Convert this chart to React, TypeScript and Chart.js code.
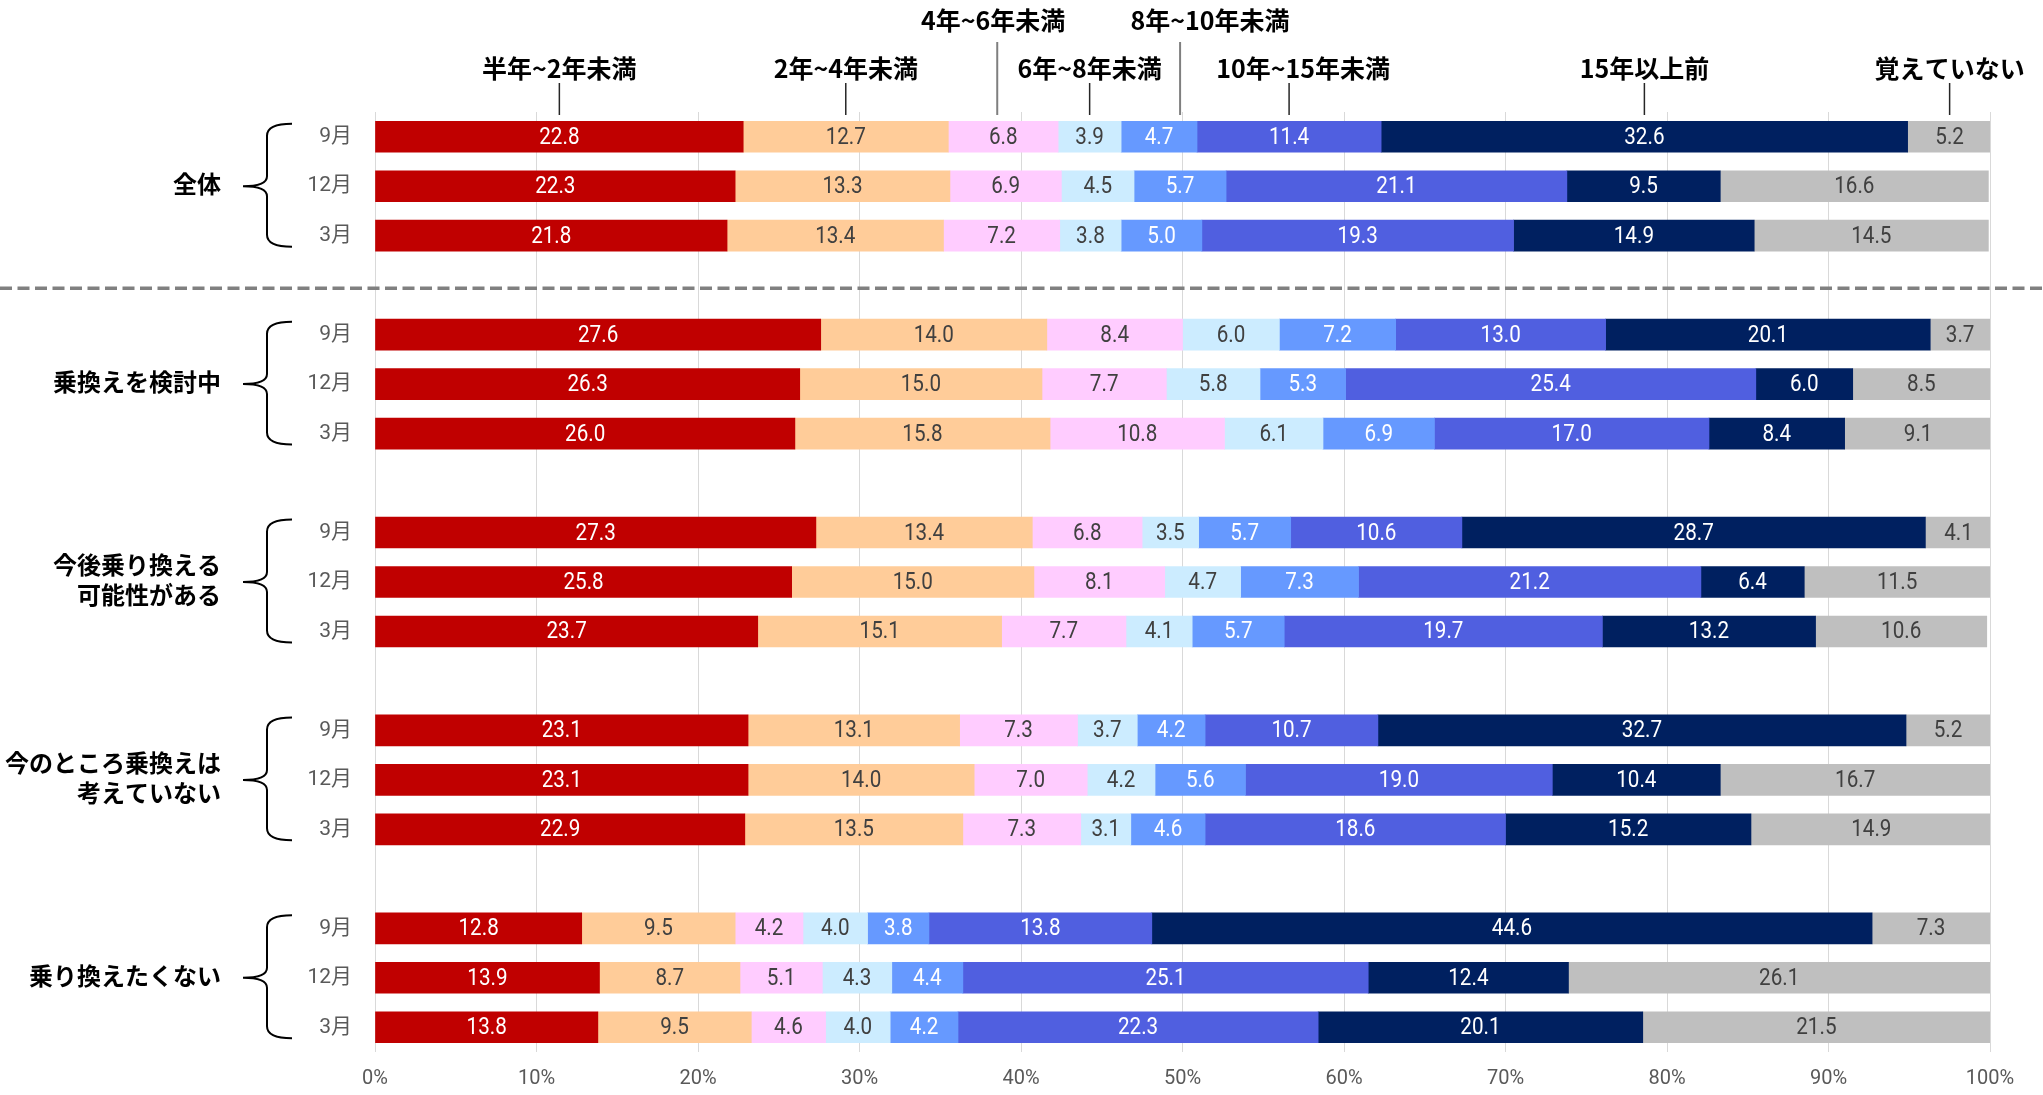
import React, { useEffect, useRef } from 'react';
import { Chart, registerables } from 'chart.js';
Chart.register(...registerables);

// ---- data ----
const seriesNames = ['半年~2年未満', '2年~4年未満', '4年~6年未満', '6年~8年未満', '8年~10年未満', '10年~15年未満', '15年以上前', '覚えていない'];
const groupLabels = [['全体'], ['乗換えを検討中'], ['今後乗り換える', '可能性がある'], ['今のところ乗換えは', '考えていない'], ['乗り換えたくない']];
const months = ['9月', '12月', '3月'];
const xTickValues = [0, 10, 20, 30, 40, 50, 60, 70, 80, 90, 100];

// each series: 5 groups x (9月, 12月, 3月)
const halfTo2 = [22.8, 22.3, 21.8, 27.6, 26.3, 26.0, 27.3, 25.8, 23.7, 23.1, 23.1, 22.9, 12.8, 13.9, 13.8];
const y2to4 = [12.7, 13.3, 13.4, 14.0, 15.0, 15.8, 13.4, 15.0, 15.1, 13.1, 14.0, 13.5, 9.5, 8.7, 9.5];
const y4to6 = [6.8, 6.9, 7.2, 8.4, 7.7, 10.8, 6.8, 8.1, 7.7, 7.3, 7.0, 7.3, 4.2, 5.1, 4.6];
const y6to8 = [3.9, 4.5, 3.8, 6.0, 5.8, 6.1, 3.5, 4.7, 4.1, 3.7, 4.2, 3.1, 4.0, 4.3, 4.0];
const y8to10 = [4.7, 5.7, 5.0, 7.2, 5.3, 6.9, 5.7, 7.3, 5.7, 4.2, 5.6, 4.6, 3.8, 4.4, 4.2];
const y10to15 = [11.4, 21.1, 19.3, 13.0, 25.4, 17.0, 10.6, 21.2, 19.7, 10.7, 19.0, 18.6, 13.8, 25.1, 22.3];
const y15plus = [32.6, 9.5, 14.9, 20.1, 6.0, 8.4, 28.7, 6.4, 13.2, 32.7, 10.4, 15.2, 44.6, 12.4, 20.1];
const notRemember = [5.2, 16.6, 14.5, 3.7, 8.5, 9.1, 4.1, 11.5, 10.6, 5.2, 16.7, 14.9, 7.3, 26.1, 21.5];

const seriesValues = [halfTo2, y2to4, y4to6, y6to8, y8to10, y10to15, y15plus, notRemember];

// ---- styles ----
const barColors = ['#C00000', '#FFCC99', '#FFCCFF', '#CCECFF', '#6699FF', '#505FE0', '#002060', '#BFBFBF'];
const textColors = ['#FFFFFF', '#404040', '#404040', '#404040', '#FFFFFF', '#FFFFFF', '#FFFFFF', '#404040'];
const headerUpper = [false, false, true, false, true, false, false, false];
const headerLineDx = [0, 0, -6, 0, 21, 0, 0, 0];
const headerTextDx = [0, 0, -4, 0, 30, 14, 0, 0];

// build rows (with blank spacer rows between groups)
const rowLabels: string[] = [];
const rowSource: (number | null)[] = [];
const groupRows: number[][] = [];
groupLabels.forEach((_, g) => {
  const rows: number[] = [];
  months.forEach((m, k) => {
    rows.push(rowLabels.length);
    rowLabels.push(m);
    rowSource.push(g * months.length + k);
  });
  groupRows.push(rows);
  if (g < groupLabels.length - 1) {
    rowLabels.push('');
    rowSource.push(null);
  }
});

const JP = "'Noto Sans CJK JP', 'Noto Sans', sans-serif";

const overlayPlugin = {
  id: 'overlay',
  afterDatasetsDraw(chart: any) {
    const ctx = chart.ctx;
    chart.data.datasets.forEach((ds: any, i: number) => {
      const meta = chart.getDatasetMeta(i);
      meta.data.forEach((el: any, j: number) => {
        const v = ds.data[j];
        if (v == null) return;
        const cx = (el.x + el.base) / 2;
        ctx.save();
        ctx.translate(cx, el.y);
        ctx.scale(0.86, 1);
        ctx.font = "24px Roboto, 'Noto Sans', sans-serif";
        ctx.fillStyle = textColors[i];
        ctx.textAlign = 'center';
        ctx.textBaseline = 'middle';
        ctx.fillText(Number(v).toFixed(1), 0, 1);
        ctx.restore();
      });
    });
  },
  afterDraw(chart: any) {
    const ctx = chart.ctx;
    const area = chart.chartArea;
    const ys = chart.scales.y;
    const W = chart.width;

    // dashed separator after the first group
    const sepY = (ys.getPixelForValue(groupRows[0][2]) + ys.getPixelForValue(groupRows[1][0])) / 2 + 3;
    ctx.save();
    ctx.strokeStyle = '#808080';
    ctx.lineWidth = 3.5;
    ctx.setLineDash([12, 5.5]);
    ctx.beginPath();
    ctx.moveTo(0, sepY);
    ctx.lineTo(W, sepY);
    ctx.stroke();
    ctx.restore();

    // header labels with leader lines (based on first row)
    const firstRow = groupRows[0][0];
    chart.data.datasets.forEach((ds: any, i: number) => {
      const el = chart.getDatasetMeta(i).data[firstRow];
      const mid = (el.x + el.base) / 2;
      const lx = mid + headerLineDx[i];
      const upper = headerUpper[i];
      ctx.save();
      ctx.strokeStyle = upper ? '#7F7F7F' : '#262626';
      ctx.lineWidth = upper ? 2 : 1.5;
      ctx.beginPath();
      ctx.moveTo(lx, upper ? 42 : 83);
      ctx.lineTo(lx, area.top + 3);
      ctx.stroke();
      ctx.font = `bold 25px ${JP}`;
      ctx.fillStyle = '#000000';
      ctx.textAlign = 'center';
      ctx.textBaseline = 'middle';
      const tw = ctx.measureText(seriesNames[i]).width;
      let tx = lx + headerTextDx[i];
      if (tx + tw / 2 > W - 1) tx = W - 1 - tw / 2;
      ctx.fillText(seriesNames[i], tx, upper ? 20 : 68);
      ctx.restore();
    });

    // braces and group labels
    groupRows.forEach((rows, g) => {
      const yTop = ys.getPixelForValue(rows[0]) - 13;
      const yMid = ys.getPixelForValue(rows[1]);
      const yBot = ys.getPixelForValue(rows[2]) + 11;
      const xTip = 243, xStem = 267, xEnd = 292;
      ctx.save();
      ctx.strokeStyle = '#000000';
      ctx.lineWidth = 2;
      ctx.beginPath();
      ctx.moveTo(xEnd, yTop);
      ctx.quadraticCurveTo(xStem, yTop, xStem, yTop + 12);
      ctx.lineTo(xStem, yMid - 10);
      ctx.quadraticCurveTo(xStem, yMid, xTip, yMid);
      ctx.quadraticCurveTo(xStem, yMid, xStem, yMid + 10);
      ctx.lineTo(xStem, yBot - 12);
      ctx.quadraticCurveTo(xStem, yBot, xEnd, yBot);
      ctx.stroke();

      const lines = groupLabels[g];
      const lh = 30;
      ctx.font = `bold 24px ${JP}`;
      ctx.fillStyle = '#000000';
      ctx.textAlign = 'right';
      ctx.textBaseline = 'middle';
      lines.forEach((t, k) => {
        const ty = yMid - 2 + (k - (lines.length - 1) / 2) * lh;
        ctx.fillText(t, 221, ty);
      });
      ctx.restore();
    });
  },
};

export default function App() {
  const ref = useRef<HTMLCanvasElement>(null);
  useEffect(() => {
    document.body.style.margin = '0';
    const datasets = seriesNames.map((name, i) => ({
      label: name,
      data: rowSource.map((s) => (s == null ? null : seriesValues[i][s])),
      backgroundColor: barColors[i],
      borderWidth: 0,
      barThickness: 31,
    }));
    const chart = new Chart(ref.current as HTMLCanvasElement, {
      type: 'bar',
      data: { labels: rowLabels, datasets },
      options: {
        indexAxis: 'y',
        animation: false,
        responsive: false,
        devicePixelRatio: 1,
        layout: { padding: { top: 112, right: 53, left: 0, bottom: 0 } },
        plugins: { legend: { display: false }, tooltip: { enabled: false } },
        scales: {
          x: {
            stacked: true,
            min: 0,
            max: 100,
            afterBuildTicks: (s: any) => {
              s.ticks = xTickValues.map((v) => ({ value: v }));
            },
            afterFit: (s: any) => {
              s.height = 43;
            },
            ticks: {
              callback: (v: any) => `${v}%`,
              font: { family: "Roboto, 'Noto Sans', sans-serif", size: 20 },
              color: '#595959',
              padding: 15,
              maxRotation: 0,
            },
            grid: { color: '#D9D9D9', lineWidth: 1, drawTicks: false },
            border: { display: false },
          },
          y: {
            stacked: true,
            afterFit: (s: any) => {
              s.width = 375;
            },
            ticks: {
              autoSkip: false,
              font: { family: `Roboto, ${JP}`, size: 21 },
              color: '#595959',
              padding: 23,
            },
            grid: { display: false, drawTicks: false },
            border: { display: false },
          },
        },
      },
      plugins: [overlayPlugin],
    } as any);
    return () => chart.destroy();
  }, []);
  return (
    <div style={{ width: 2043, height: 1095 }}>
      <canvas ref={ref} width={2043} height={1095} style={{ display: 'block' }} />
    </div>
  );
}
